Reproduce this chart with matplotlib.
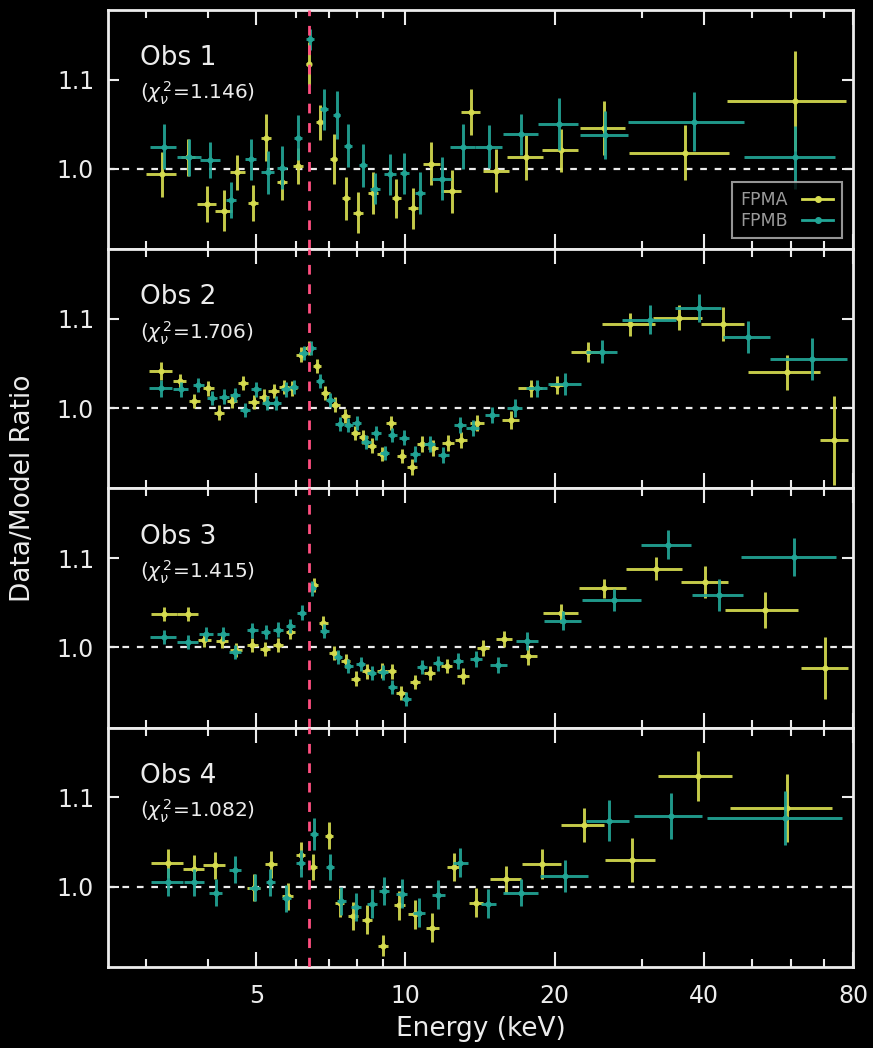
import matplotlib
matplotlib.use("Agg")
import matplotlib.pyplot as plt
from matplotlib.lines import Line2D
import numpy as np

# ---------------- data: ratio of data to best-fit model ----------------
OBS_NAMES = ["Obs 1", "Obs 2", "Obs 3", "Obs 4"]
CHI2 = ["1.146", "1.706", "1.415", "1.082"]

# Obs 1
O1_A_E = [3.22, 3.64, 3.97, 4.30, 4.58, 4.93, 5.23, 5.64, 6.07, 6.38, 6.73, 7.16, 7.58, 8.03, 8.59,
          9.58, 10.35, 11.28, 12.39, 13.55, 15.25, 17.5, 20.6, 25.1, 36.6, 61.0]
O1_A_W = [0.22, 0.12, 0.17, 0.17, 0.16, 0.12, 0.12, 0.13, 0.15, 0.08, 0.13, 0.12, 0.15, 0.18, 0.2,
          0.2, 0.25, 0.44, 0.57, 0.62, 0.9, 1.45, 1.7, 2.65, 8.4, 16.4]
O1_A_R = [0.994, 1.013, 0.961, 0.953, 0.996, 0.962, 1.035, 0.985, 1.003, 1.118, 1.052, 1.011, 0.967,
          0.951, 0.973, 0.967, 0.956, 1.006, 0.975, 1.064, 0.998, 1.013, 1.021, 1.046, 1.018, 1.076]
O1_A_S = [0.025, 0.021, 0.02, 0.023, 0.02, 0.02, 0.026, 0.02, 0.02, 0.024, 0.02, 0.028, 0.024, 0.023,
          0.023, 0.022, 0.023, 0.024, 0.024, 0.026, 0.024, 0.025, 0.024, 0.03, 0.031, 0.056]

O1_B_E = [3.25, 3.66, 4.04, 4.44, 4.87, 5.27, 5.64, 6.07, 6.41, 6.86, 7.27, 7.65, 8.2, 8.69, 9.31,
          9.95, 10.7, 11.83, 13.06, 14.72, 17.1, 20.4, 25.3, 38.2, 61.0]
O1_B_W = [0.2, 0.2, 0.19, 0.1, 0.12, 0.17, 0.13, 0.12, 0.12, 0.13, 0.12, 0.15, 0.15, 0.2, 0.25,
          0.2, 0.25, 0.5, 0.77, 0.93, 1.4, 1.9, 2.85, 10.1, 12.7]
O1_B_R = [1.025, 1.013, 1.010, 0.965, 1.011, 0.996, 1.0015, 1.035, 1.145, 1.067, 1.060, 1.026, 1.004,
          0.978, 0.994, 0.995, 0.973, 0.989, 1.025, 1.025, 1.039, 1.050, 1.038, 1.053, 1.013]
O1_B_S = [0.025, 0.021, 0.02, 0.02, 0.023, 0.024, 0.024, 0.025, 0.012, 0.023, 0.027, 0.024, 0.024,
          0.017, 0.023, 0.023, 0.024, 0.024, 0.025, 0.024, 0.023, 0.029, 0.027, 0.033, 0.035]

# Obs 2
O2_A_E = [3.21, 3.50, 3.75, 4.00, 4.21, 4.47, 4.70, 4.94, 5.18, 5.42, 5.68, 5.91, 6.14, 6.38, 6.63,
          6.89, 7.22, 7.56, 7.92, 8.22, 8.55, 8.96, 9.35, 9.82, 10.29, 10.78, 11.37, 12.19, 12.94,
          13.95, 16.3, 17.9, 20.2, 23.3, 28.4, 35.6, 43.8, 58.9, 73.3]
O2_A_W = [0.17, 0.1, 0.1, 0.1, 0.1, 0.11, 0.11, 0.12, 0.12, 0.13, 0.13, 0.13, 0.13, 0.13, 0.13,
          0.14, 0.15, 0.16, 0.17, 0.18, 0.19, 0.2, 0.2, 0.22, 0.24, 0.25, 0.28, 0.32, 0.36,
          0.45, 0.65, 1.0, 0.65, 1.7, 3.5, 4.0, 4.3, 9.7, 4.8]
O2_A_R = [1.042, 1.030, 1.008, 1.022, 0.995, 1.008, 1.028, 1.007, 1.013, 1.019, 1.024, 1.022, 1.060,
          1.067, 1.047, 1.017, 1.004, 0.991, 0.972, 0.968, 0.958, 0.949, 0.983, 0.946, 0.934, 0.960,
          0.955, 0.961, 0.964, 0.983, 0.987, 1.022, 1.026, 1.063, 1.094, 1.101, 1.094, 1.040, 0.964]
O2_A_S = [0.01, 0.008, 0.008, 0.008, 0.008, 0.008, 0.008, 0.008, 0.008, 0.008, 0.008, 0.008, 0.008,
          0.008, 0.008, 0.008, 0.008, 0.008, 0.008, 0.008, 0.008, 0.008, 0.008, 0.008, 0.009, 0.009,
          0.009, 0.009, 0.009, 0.009, 0.01, 0.01, 0.01, 0.011, 0.013, 0.014, 0.019, 0.02, 0.05]

O2_B_E = [3.21, 3.52, 3.82, 4.07, 4.30, 4.53, 4.75, 5.0, 5.26, 5.49, 5.73, 5.95, 6.24, 6.46, 6.72,
          7.05, 7.36, 7.66, 7.98, 8.32, 8.72, 9.08, 9.41, 9.94, 10.47, 11.2, 11.93, 12.87, 13.67,
          14.96, 16.6, 18.4, 21.0, 24.9, 31.2, 39.1, 49.1, 66.1]
O2_B_W = [0.17, 0.12, 0.1, 0.1, 0.1, 0.11, 0.11, 0.12, 0.12, 0.13, 0.13, 0.13, 0.13, 0.13, 0.13,
          0.15, 0.16, 0.16, 0.17, 0.18, 0.19, 0.2, 0.2, 0.22, 0.25, 0.28, 0.3, 0.35, 0.4,
          0.5, 0.6, 0.9, 1.65, 1.8, 3.9, 4.15, 5.3, 11.8]
O2_B_R = [1.022, 1.021, 1.026, 1.011, 1.013, 1.015, 0.998, 1.021, 1.006, 1.006, 1.021, 1.024, 1.062,
          1.067, 1.030, 1.009, 0.982, 0.981, 0.983, 0.962, 0.972, 0.950, 0.970, 0.967, 0.949, 0.960,
          0.947, 0.981, 0.978, 0.992, 1.000, 1.022, 1.027, 1.063, 1.099, 1.112, 1.080, 1.055]
O2_B_S = [0.01, 0.008, 0.008, 0.008, 0.008, 0.008, 0.008, 0.008, 0.008, 0.008, 0.008, 0.008, 0.008,
          0.008, 0.008, 0.008, 0.008, 0.008, 0.008, 0.008, 0.008, 0.008, 0.008, 0.008, 0.009, 0.009,
          0.009, 0.009, 0.009, 0.009, 0.01, 0.01, 0.012, 0.013, 0.016, 0.016, 0.018, 0.023]

# Obs 3
O3_A_E = [3.26, 3.64, 3.93, 4.27, 4.55, 4.91, 5.20, 5.53, 5.86, 6.53, 6.83, 7.16, 7.58, 7.94, 8.36,
          8.96, 9.38, 9.80, 10.45, 11.2, 12.11, 13.06, 14.34, 15.8, 17.7, 20.6, 25.1, 32.0, 40.3,
          53.1, 70.4]
O3_A_W = [0.2, 0.18, 0.12, 0.12, 0.12, 0.12, 0.12, 0.13, 0.13, 0.13, 0.14, 0.15, 0.16, 0.17, 0.18,
          0.2, 0.2, 0.22, 0.25, 0.28, 0.3, 0.36, 0.4, 0.6, 0.7, 1.65, 2.75, 4.1, 4.35, 8.9, 7.7]
O3_A_R = [1.037, 1.037, 1.008, 1.007, 0.997, 1.003, 0.998, 1.003, 1.017, 1.070, 1.027, 0.994, 0.985,
          0.965, 0.973, 0.974, 0.973, 0.949, 0.961, 0.971, 0.979, 0.968, 0.999, 1.009, 0.990, 1.038,
          1.066, 1.088, 1.073, 1.042, 0.977]
O3_A_S = [0.008, 0.008, 0.008, 0.008, 0.008, 0.008, 0.008, 0.008, 0.008, 0.008, 0.008, 0.008, 0.008,
          0.008, 0.008, 0.008, 0.008, 0.008, 0.008, 0.008, 0.008, 0.009, 0.009, 0.009, 0.01, 0.011,
          0.011, 0.013, 0.018, 0.02, 0.035]

O3_B_E = [3.25, 3.64, 3.96, 4.28, 4.53, 4.91, 5.22, 5.53, 5.86, 6.17, 6.48, 6.86, 7.31, 7.66, 8.13,
          8.55, 9.02, 9.41, 10.04, 10.81, 11.65, 12.77, 13.89, 15.4, 17.6, 20.8, 26.3, 33.8, 42.9, 60.8]
O3_B_W = [0.2, 0.18, 0.12, 0.12, 0.12, 0.12, 0.12, 0.13, 0.13, 0.13, 0.13, 0.14, 0.15, 0.16, 0.17,
          0.18, 0.2, 0.2, 0.22, 0.25, 0.28, 0.32, 0.4, 0.6, 0.9, 1.8, 3.6, 3.9, 5.0, 13.2]
O3_B_R = [1.012, 1.006, 1.015, 1.015, 0.995, 1.019, 1.017, 1.020, 1.024, 1.039, 1.066, 1.018, 0.989,
          0.979, 0.981, 0.971, 0.972, 0.956, 0.942, 0.978, 0.982, 0.985, 0.987, 0.980, 1.007, 1.030,
          1.053, 1.115, 1.059, 1.101]
O3_B_S = [0.008, 0.008, 0.008, 0.008, 0.008, 0.008, 0.008, 0.008, 0.008, 0.008, 0.008, 0.008, 0.008,
          0.008, 0.008, 0.008, 0.008, 0.008, 0.008, 0.008, 0.008, 0.009, 0.009, 0.009, 0.01, 0.011,
          0.012, 0.016, 0.018, 0.021]

# Obs 4
O4_A_E = [3.31, 3.74, 4.12, 4.94, 5.36, 5.78, 6.14, 6.51, 7.0, 7.36, 7.83, 8.36, 9.02, 9.72, 10.44,
          11.33, 12.5, 13.89, 15.94, 18.9, 22.9, 28.6, 39.0, 58.9]
O4_A_W = [0.25, 0.18, 0.21, 0.15, 0.15, 0.15, 0.12, 0.12, 0.13, 0.15, 0.18, 0.2, 0.22, 0.25, 0.3,
          0.35, 0.35, 0.45, 1.15, 1.7, 2.3, 3.3, 6.6, 13.7]
O4_A_R = [1.026, 1.020, 1.024, 0.999, 1.025, 0.989, 1.035, 1.022, 1.057, 0.982, 0.967, 0.963, 0.934,
          0.979, 0.969, 0.954, 1.022, 0.982, 1.008, 1.025, 1.069, 1.030, 1.124, 1.088]
O4_A_S = [0.016, 0.015, 0.015, 0.015, 0.015, 0.015, 0.015, 0.015, 0.015, 0.016, 0.016, 0.016, 0.012,
          0.016, 0.016, 0.016, 0.016, 0.016, 0.015, 0.017, 0.019, 0.025, 0.028, 0.038]

O4_B_E = [3.31, 3.75, 4.14, 4.53, 4.96, 5.34, 5.75, 6.14, 6.53, 7.03, 7.42, 7.94, 8.55, 9.06, 9.82,
          10.67, 11.65, 12.9, 14.7, 17.1, 21.0, 25.7, 34.3, 58.3]
O4_B_W = [0.25, 0.18, 0.12, 0.13, 0.12, 0.12, 0.12, 0.12, 0.12, 0.13, 0.15, 0.18, 0.2, 0.22, 0.25,
          0.3, 0.35, 0.45, 0.5, 1.4, 2.3, 2.6, 5.4, 17.7]
O4_B_R = [1.005, 1.005, 0.993, 1.019, 0.999, 1.005, 0.987, 1.026, 1.059, 1.022, 0.984, 0.977, 0.981,
          0.995, 0.992, 0.971, 0.991, 1.027, 0.981, 0.993, 1.012, 1.074, 1.079, 1.077]
O4_B_S = [0.016, 0.015, 0.015, 0.015, 0.015, 0.015, 0.015, 0.015, 0.018, 0.015, 0.016, 0.016, 0.016,
          0.016, 0.016, 0.016, 0.016, 0.016, 0.016, 0.015, 0.018, 0.023, 0.026, 0.03]

FPMA = [(O1_A_E, O1_A_W, O1_A_R, O1_A_S), (O2_A_E, O2_A_W, O2_A_R, O2_A_S),
        (O3_A_E, O3_A_W, O3_A_R, O3_A_S), (O4_A_E, O4_A_W, O4_A_R, O4_A_S)]
FPMB = [(O1_B_E, O1_B_W, O1_B_R, O1_B_S), (O2_B_E, O2_B_W, O2_B_R, O2_B_S),
        (O3_B_E, O3_B_W, O3_B_R, O3_B_S), (O4_B_E, O4_B_W, O4_B_R, O4_B_S)]

FE_LINE = 6.4  # keV, Fe K line
X_MAJOR = [5, 10, 20, 40, 80]
X_MINOR = [3, 4, 6, 7, 8, 9, 30, 50, 60, 70]
Y_TICKS = [1.0, 1.1]

# ---------------- style ----------------
BG = "black"
FG = "#ececec"
COL_A = "#d6dc50"
COL_B = "#22a596"
PINK = "#ff4f80"

plt.rcParams["font.family"] = ["DejaVu Sans"]
plt.rcParams["mathtext.fontset"] = "dejavusans"

fig = plt.figure(figsize=(8.73, 10.48), dpi=100, facecolor=BG)
gs = fig.add_gridspec(4, 1, left=0.1237, right=0.9771, bottom=0.0773, top=0.9905, hspace=0)
axes = [fig.add_subplot(gs[i]) for i in range(4)]


def draw_set(ax, data, color, z):
    e, w, r, s = data
    ax.errorbar(e, r, xerr=w, yerr=s, fmt="o", ms=3.4, color=color, ecolor=color,
                elinewidth=2.1, capsize=0, alpha=0.92, zorder=z)


for i, ax in enumerate(axes):
    ax.set_facecolor(BG)
    ax.set_xscale("log")
    ax.set_xlim(2.51, 80)
    ax.set_ylim(0.91, 1.178)

    ax.axhline(1.0, color=FG, lw=1.6, ls=(0, (3, 3.5)), zorder=1)
    ax.axvline(FE_LINE, color=PINK, lw=2.0, ls=(0, (3.5, 3.5)), zorder=5)

    draw_set(ax, FPMA[i], COL_A, 3)
    draw_set(ax, FPMB[i], COL_B, 4)

    ax.set_xticks(X_MAJOR)
    ax.set_xticks(X_MINOR, minor=True)
    ax.set_yticks(Y_TICKS)
    ax.yaxis.set_minor_locator(matplotlib.ticker.NullLocator())
    ax.set_yticklabels([f"{v:.1f}" for v in Y_TICKS])
    if i == 3:
        ax.set_xticklabels([str(v) for v in X_MAJOR])
    else:
        ax.set_xticklabels([])
    ax.xaxis.set_minor_formatter(matplotlib.ticker.NullFormatter())

    ax.tick_params(which="both", direction="in", top=True, right=True, colors=FG,
                   labelcolor=FG, width=1.5)
    ax.tick_params(axis="x", which="major", length=11, labelsize=17, pad=12)
    ax.tick_params(axis="x", which="minor", length=6)
    ax.tick_params(axis="y", which="major", length=8, labelsize=17, pad=10)
    for sp in ax.spines.values():
        sp.set_color(FG)
        sp.set_linewidth(2.0)

    ax.text(0.043, 0.77, OBS_NAMES[i], transform=ax.transAxes, fontsize=19,
            color=FG, ha="left", va="baseline")
    ax.text(0.043, 0.625, r"($\chi_\nu^{\,2}$=" + CHI2[i] + ")", transform=ax.transAxes,
            fontsize=14.5, color=FG, ha="left", va="baseline")

# legend in the top panel
handles = [Line2D([], [], color=COL_A, lw=2, marker="o", ms=4),
           Line2D([], [], color=COL_B, lw=2, marker="o", ms=4)]
leg = axes[0].legend(handles, ["FPMA", "FPMB"], loc="lower right",
                     bbox_to_anchor=(0.985, 0.045), markerfirst=False, fontsize=12.5,
                     frameon=True, fancybox=False, handlelength=1.8, handletextpad=0.8,
                     borderpad=0.5, labelspacing=0.15, borderaxespad=0)
leg.get_frame().set_facecolor(BG)
leg.get_frame().set_edgecolor("#bbbbbb")
leg.get_frame().set_linewidth(1.5)
for t in leg.get_texts():
    t.set_color("#9a9a9a")

axes[3].set_xlabel("Energy (keV)", fontsize=19, color=FG, labelpad=6)
fig.text(0.026, 0.534, "Data/Model Ratio", rotation=90, fontsize=19, color=FG,
         ha="center", va="center")

fig.savefig("out.png", dpi=100, facecolor=BG)
